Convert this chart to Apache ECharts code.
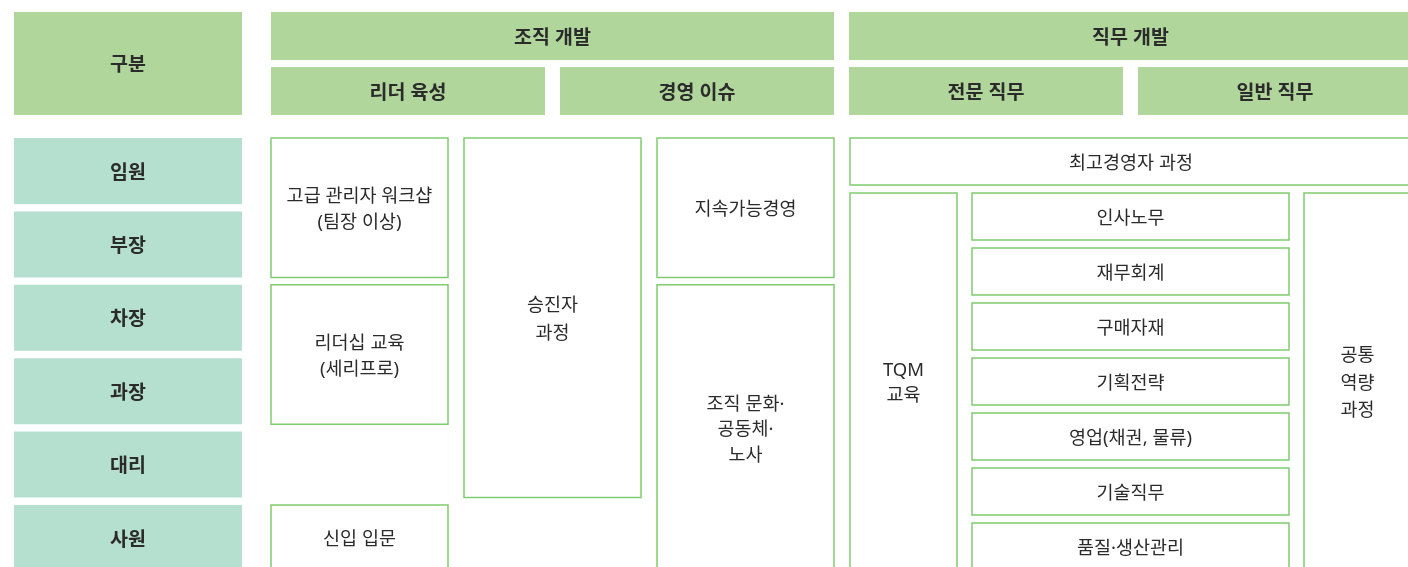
<!DOCTYPE html>
<html>
<head>
<meta charset="utf-8">
<style>
  html, body { margin: 0; padding: 0; background: #ffffff; }
  #chart { width: 1408px; height: 567px; }
</style>
<script src="https://cdn.jsdelivr.net/npm/echarts@6/dist/echarts.min.js"></script>
</head>
<body>
<div id="chart"></div>
<script>
// ---------------- DATA ----------------
const cornerLabel = '구분';
const groupHeaders = ['조직 개발', '직무 개발'];
const subHeaders = ['리더 육성', '경영 이슈', '전문 직무', '일반 직무'];
const ranks = ['임원', '부장', '차장', '과장', '대리', '사원'];
// [label, column, first rank index, rank index after last]
const leaderPrograms = [
  ['고급 관리자 워크샵\n(팀장 이상)', 0, 0, 2],
  ['리더십 교육\n(세리프로)', 0, 2, 4],
  ['신입 입문', 0, 5, 6],
  ['승진자\n과정', 1, 0, 5]
];
const issuePrograms = [
  ['지속가능경영', 2, 0, 2],
  ['조직 문화·\n공동체·\n노사', 2, 2, 6]
];
const execProgram = '최고경영자 과정';
const tqmProgram = 'TQM\n교육';
const jobPrograms = ['인사노무', '재무회계', '구매자재', '기획전략', '영업(채권, 물류)', '기술직무', '품질·생산관리'];
const commonProgram = '공통\n역량\n과정';

// ---------------- LAYOUT (axis units) ----------------
const L = {
  labelX: [14, 242],
  hdrY1: [12, 60], hdrY2: [67, 115],
  groupX0: 271, groupPitch: 578, groupW: 563,
  subPitch: 289, subW: 274,
  bodyTop: 138, rankPitch: 73.4, rankGap: 7.4,
  colX0: 271, colPitch: 193, colW: 177,
  rightX0: 850, rightX1: 1412,
  tqmX: [850, 957], jobX: [972, 1289], commonX: [1304, 1411],
  slotPitch: 55, slotGap: 8, slotCount: 8
};
const C = {
  header: '#b0d69c', rank: '#b5dfcf', border: '#80cb6f', text: '#2b2b2b'
};

// ---------------- BUILD CELLS ----------------
const cells = [];
function add(x0, x1, y0, y1, text, kind, extra) {
  cells.push(Object.assign({ v: [x0, x1, y0, y1], text: text, kind: kind }, extra || {}));
}
add(L.labelX[0], L.labelX[1], L.hdrY1[0], L.hdrY2[1], cornerLabel, 'header');
groupHeaders.forEach((g, i) => {
  const x0 = L.groupX0 + i * L.groupPitch;
  add(x0, x0 + L.groupW, L.hdrY1[0], L.hdrY1[1], g, 'header');
});
subHeaders.forEach((s, i) => {
  const x0 = L.groupX0 + i * L.subPitch + (i >= 2 ? L.groupPitch - 2 * L.subPitch : 0);
  add(x0, x0 + L.subW, L.hdrY2[0], L.hdrY2[1], s, 'header');
});
const rankY = (r) => L.bodyTop + r * L.rankPitch;
ranks.forEach((r, i) => {
  add(L.labelX[0], L.labelX[1], rankY(i), rankY(i + 1) - L.rankGap, r, 'rank');
});
leaderPrograms.concat(issuePrograms).forEach(p => {
  const x0 = L.colX0 + p[1] * L.colPitch;
  add(x0, x0 + L.colW, rankY(p[2]), rankY(p[3]) - L.rankGap, p[0], 'body',
      { lh: p[0].split('\n').length === 2 && p[1] === 1 ? 28 : 25.5 });
});
const slotY = (s) => L.bodyTop + s * L.slotPitch;
add(L.rightX0, L.rightX1, slotY(0), slotY(1) - L.slotGap, execProgram, 'body');
add(L.tqmX[0], L.tqmX[1], slotY(1), slotY(L.slotCount) - L.slotGap, tqmProgram, 'body', { lh: 25 });
jobPrograms.forEach((j, i) => {
  add(L.jobX[0], L.jobX[1], slotY(i + 1), slotY(i + 2) - L.slotGap, j, 'body');
});
add(L.commonX[0], L.commonX[1], slotY(1), slotY(L.slotCount) - L.slotGap, commonProgram, 'body', { lh: 27.5 });

// ---------------- CHART ----------------
const chart = echarts.init(document.getElementById('chart'), null, { renderer: 'canvas' });
const FONT = '"Noto Sans", "Noto Sans CJK KR", sans-serif';

chart.setOption({
  animation: false,
  backgroundColor: '#ffffff',
  grid: { left: 0, right: 0, top: 0, bottom: 0, containLabel: false },
  xAxis: { type: 'value', min: 0, max: 1408, show: false },
  yAxis: { type: 'value', min: 0, max: 567, inverse: true, show: false },
  series: [{
    type: 'custom',
    clip: true,
    data: cells.map(c => c.v),
    encode: { x: [0, 1], y: [2, 3] },
    renderItem: function (params, api) {
      const c = cells[params.dataIndex];
      const p0 = api.coord([api.value(0), api.value(2)]);
      const p1 = api.coord([api.value(1), api.value(3)]);
      const isBody = c.kind === 'body';
      const fill = c.kind === 'header' ? C.header : (c.kind === 'rank' ? C.rank : '#ffffff');
      return {
        type: 'rect',
        shape: { x: p0[0], y: p0[1], width: p1[0] - p0[0], height: p1[1] - p0[1] },
        style: {
          fill: fill,
          stroke: isBody ? C.border : null,
          lineWidth: isBody ? 1.5 : 0
        },
        textContent: {
          style: {
            text: c.text,
            fill: C.text,
            fontFamily: FONT,
            fontSize: isBody ? 18.5 : 19.5,
            fontWeight: isBody ? 'normal' : 'bold',
            lineHeight: c.lh || 25,
            align: 'center',
            verticalAlign: 'middle'
          }
        },
        textConfig: { position: 'inside', offset: [0, 2] }
      };
    }
  }]
});
</script>
</body>
</html>
